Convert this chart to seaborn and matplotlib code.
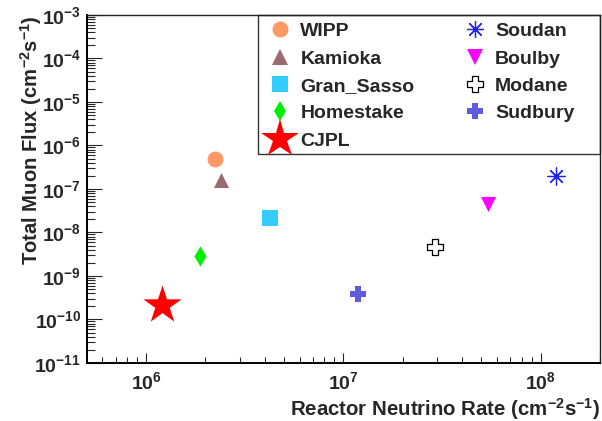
import matplotlib
matplotlib.use("Agg")
import matplotlib.pyplot as plt
import matplotlib.ticker as mticker
from matplotlib.lines import Line2D
from matplotlib.patches import Rectangle
import seaborn as sns
import pandas as pd
import numpy as np

# ---- data ----
sites = ["WIPP", "Kamioka", "Gran_Sasso", "Homestake", "CJPL",
         "Soudan", "Boulby", "Modane", "Sudbury"]
reactor_rate = [2.24e6, 2.39e6, 4.25e6, 1.88e6, 1.20e6,
                1.20e8, 5.38e7, 2.92e7, 1.18e7]
muon_flux = [4.9e-7, 1.57e-7, 2.19e-8, 2.88e-9, 2.15e-10,
             2.02e-7, 4.52e-8, 4.57e-9, 3.79e-10]

# ---- styles ----
markers = ["o", "^", "s", "d", "*", (8, 2, 0), "v", "P", "P"]
sizes = [132, 117, 130, 105, 829, 150, 117, 140, 140]
face = ["#FF9966", "#9A6A70", "#33CCFF", "#00EE00", "#FF0000",
        "#2222EE", "#FF00FF", "white", "#5C5CDD"]
edge = ["#FF9966", "#9A6A70", "#33CCFF", "#00EE00", "#FF0000",
        "#2222EE", "#FF00FF", "black", "#5C5CDD"]
lws = [0, 0, 0, 0, 0, 0.9, 0, 0.9, 0]

sns.set_style("ticks")
plt.rcParams["font.family"] = ["Liberation Sans", "DejaVu Sans"]
plt.rcParams["font.weight"] = "bold"
plt.rcParams["mathtext.fontset"] = "custom"
plt.rcParams["mathtext.rm"] = "Liberation Sans:bold"
plt.rcParams["mathtext.bf"] = "Liberation Sans:bold"
plt.rcParams["mathtext.it"] = "Liberation Sans:bold:italic"
plt.rcParams["mathtext.sf"] = "Liberation Sans:bold"

fig = plt.figure(figsize=(6.02, 4.21), dpi=100)
ax = fig.add_axes([0.144, 0.1378, 0.8527, 0.8266])

df = pd.DataFrame({"site": sites, "rate": reactor_rate, "flux": muon_flux})
for i in range(len(df)):
    sns.scatterplot(data=df.iloc[[i]], x="rate", y="flux", ax=ax,
                    marker=markers[i], s=sizes[i], color=edge[i],
                    facecolor=face[i], edgecolor=edge[i], linewidth=lws[i],
                    legend=False, zorder=3, clip_on=False)

ax.set_xscale("log")
ax.set_yscale("log")
ax.set_xlim(5e5, 2e8)
ax.set_ylim(1e-11, 1e-3)

fmt = mticker.FuncFormatter(lambda v, p: r"$10^{%d}$" % int(round(np.log10(v))))
ax.xaxis.set_major_locator(mticker.LogLocator(base=10, numticks=20))
ax.yaxis.set_major_locator(mticker.LogLocator(base=10, numticks=20))
ax.xaxis.set_minor_locator(mticker.LogLocator(base=10, subs=np.arange(2, 10), numticks=20))
ax.yaxis.set_minor_locator(mticker.LogLocator(base=10, subs=np.arange(2, 10), numticks=20))
ax.xaxis.set_major_formatter(fmt)
ax.yaxis.set_major_formatter(fmt)
ax.xaxis.set_minor_formatter(mticker.NullFormatter())
ax.yaxis.set_minor_formatter(mticker.NullFormatter())

ax.tick_params(axis="x", which="major", direction="in", length=7.2, width=0.8,
               labelsize=14, pad=6, top=False)
ax.tick_params(axis="x", which="minor", direction="in", length=4.3, width=0.8, top=False)
ax.tick_params(axis="y", which="major", direction="in", length=10.8, width=0.8,
               labelsize=14, pad=4, right=False)
ax.tick_params(axis="y", which="minor", direction="in", length=5.4, width=0.8, right=False)
for sp in ax.spines.values():
    sp.set_linewidth(1.0)
    sp.set_color("#222222")
ax.spines["bottom"].set_linewidth(1.4)
ax.spines["left"].set_linewidth(1.4)
ax.spines["bottom"].set_color("black")
ax.spines["left"].set_color("black")

ax.set_xlabel(r"Reactor Neutrino Rate (cm$^{-2}$s$^{-1}$)", loc="right",
              fontsize=14.7, fontweight="bold", labelpad=2)
ax.set_ylabel(r"Total Muon Flux (cm$^{-2}$s$^{-1}$)", loc="top",
              fontsize=14.6, fontweight="bold")
ax.yaxis.set_label_coords(-0.083, 1.0)

# legend
handles = []
for i in range(len(sites)):
    handles.append(Line2D([], [], linestyle="none", marker=markers[i],
                          markersize=np.sqrt(sizes[i]),
                          markerfacecolor=face[i], markeredgecolor=edge[i],
                          markeredgewidth=lws[i]))
leg = ax.legend(handles, sites, ncol=2, loc="upper left",
                bbox_to_anchor=(0.3538, 0.978), frameon=False,
                fontsize=14, borderpad=0, handlelength=1.2,
                handletextpad=0.45, columnspacing=2.5, labelspacing=0.5,
                borderaxespad=0)
for t in leg.get_texts():
    t.set_fontweight("bold")
ax.add_patch(Rectangle((0.3337, 0.6006), 0.6663, 0.3994, transform=ax.transAxes,
                       fill=False, edgecolor="#333333", linewidth=1.0,
                       zorder=2, clip_on=False))

fig.savefig("out.png", dpi=100)
